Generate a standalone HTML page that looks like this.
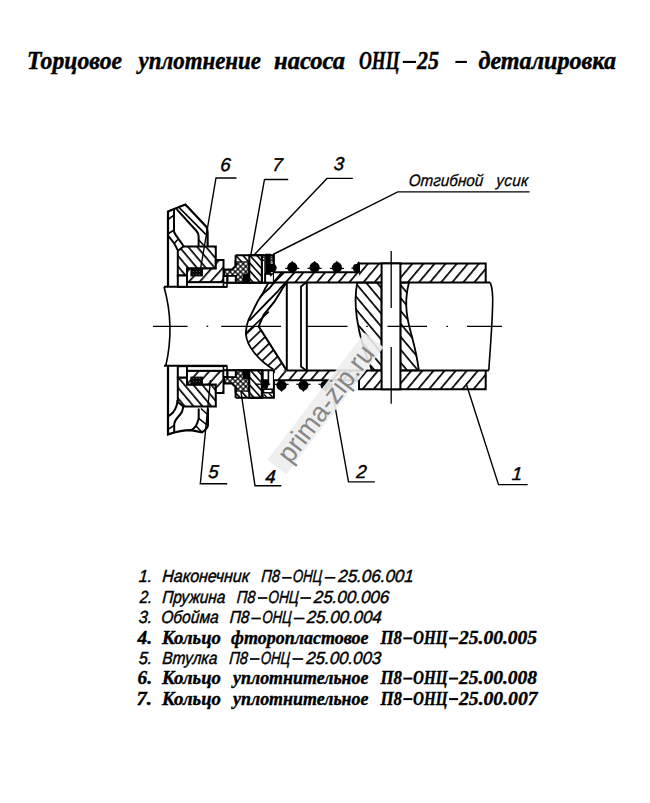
<!DOCTYPE html>
<html><head><meta charset="utf-8"><style>
html,body{margin:0;padding:0;background:#fff;}
svg{display:block;}
</style></head><body>
<svg width="650" height="803" viewBox="0 0 650 803">
<defs><pattern id="hf" patternUnits="userSpaceOnUse" width="8.5" height="10" patternTransform="rotate(40) translate(0.0,0)"><rect width="8.5" height="10" fill="#fff"/><rect x="0" y="0" width="1.7" height="10" fill="#000"/></pattern><pattern id="hb" patternUnits="userSpaceOnUse" width="8.3" height="10" patternTransform="rotate(140) translate(0.0,0)"><rect width="8.3" height="10" fill="#fff"/><rect x="0" y="0" width="1.7" height="10" fill="#000"/></pattern><pattern id="hfs" patternUnits="userSpaceOnUse" width="8.3" height="10" patternTransform="rotate(40) translate(0.0,0)"><rect width="8.3" height="10" fill="#fff"/><rect x="0" y="0" width="1.7" height="10" fill="#000"/></pattern><pattern id="hbw" patternUnits="userSpaceOnUse" width="6.8" height="10" patternTransform="rotate(140) translate(0.0,0)"><rect width="6.8" height="10" fill="#fff"/><rect x="0" y="0" width="1.7" height="10" fill="#000"/></pattern><pattern id="hfw" patternUnits="userSpaceOnUse" width="8.0" height="10" patternTransform="rotate(42) translate(0.0,0)"><rect width="8.0" height="10" fill="#fff"/><rect x="0" y="0" width="1.7" height="10" fill="#000"/></pattern><pattern id="hp" patternUnits="userSpaceOnUse" width="8.3" height="10" patternTransform="rotate(140) translate(0.0,0)"><rect width="8.3" height="10" fill="#fff"/><rect x="0" y="0" width="1.7" height="10" fill="#000"/></pattern><pattern id="hc" patternUnits="userSpaceOnUse" width="7.6" height="10" patternTransform="rotate(46) translate(0.0,0)"><rect width="7.6" height="10" fill="#fff"/><rect x="0" y="0" width="1.7" height="10" fill="#000"/></pattern><pattern id="hbm" patternUnits="userSpaceOnUse" width="8.3" height="10" patternTransform="rotate(40) translate(0.0,0)"><rect width="8.3" height="10" fill="#fff"/><rect x="0" y="0" width="1.7" height="10" fill="#000"/></pattern><pattern id="hbwm" patternUnits="userSpaceOnUse" width="6.8" height="10" patternTransform="rotate(40) translate(0.0,0)"><rect width="6.8" height="10" fill="#fff"/><rect x="0" y="0" width="1.7" height="10" fill="#000"/></pattern><pattern id="hfwm" patternUnits="userSpaceOnUse" width="8.0" height="10" patternTransform="rotate(138) translate(0.0,0)"><rect width="8.0" height="10" fill="#fff"/><rect x="0" y="0" width="1.7" height="10" fill="#000"/></pattern><pattern id="hcg" patternUnits="userSpaceOnUse" width="5.2" height="10" patternTransform="rotate(138) translate(0.0,0)"><rect width="5.2" height="10" fill="#fff"/><rect x="0" y="0" width="1.6" height="10" fill="#000"/></pattern><pattern id="hcgm" patternUnits="userSpaceOnUse" width="5.2" height="10" patternTransform="rotate(42) translate(0.0,0)"><rect width="5.2" height="10" fill="#fff"/><rect x="0" y="0" width="1.6" height="10" fill="#000"/></pattern><pattern id="xh" patternUnits="userSpaceOnUse" width="3.75" height="3.75" patternTransform="translate(237.9,263.8) rotate(45)"><rect width="3.75" height="3.75" fill="#000"/><rect x="0.65" y="0.65" width="2.45" height="2.45" fill="#fff"/></pattern><pattern id="dots" patternUnits="userSpaceOnUse" width="2.6" height="2.6"><rect width="2.6" height="2.6" fill="#000"/><rect x="0.7" y="0.7" width="1.3" height="1.3" fill="#fff"/></pattern><pattern id="dk" patternUnits="userSpaceOnUse" width="3" height="3"><rect width="3" height="3" fill="#0a0a0a"/><rect x="1" y="1" width="1" height="1" fill="#505050"/></pattern></defs>
<rect width="650" height="803" fill="#fff"/>
<text transform="translate(27.0,69.2)" x="0" y="0" font-family="Liberation Serif" font-weight="bold" font-style="italic" font-size="26" textLength="95.0" lengthAdjust="spacingAndGlyphs" stroke="#000" stroke-width="0.45">Торцовое</text>
<text transform="translate(138.5,69.2)" x="0" y="0" font-family="Liberation Serif" font-weight="bold" font-style="italic" font-size="26" textLength="122.5" lengthAdjust="spacingAndGlyphs" stroke="#000" stroke-width="0.45">уплотнение</text>
<text transform="translate(274.0,69.2)" x="0" y="0" font-family="Liberation Serif" font-weight="bold" font-style="italic" font-size="26" textLength="71.0" lengthAdjust="spacingAndGlyphs" stroke="#000" stroke-width="0.45">насоса</text>
<text transform="translate(359.0,69.2)" x="0" y="0" font-family="Liberation Serif" font-weight="bold" font-style="italic" font-size="26" textLength="40.5" lengthAdjust="spacingAndGlyphs" stroke="#000" stroke-width="0.45">ОНЦ</text>
<text transform="translate(417.0,69.2)" x="0" y="0" font-family="Liberation Serif" font-weight="bold" font-style="italic" font-size="26" textLength="22.0" lengthAdjust="spacingAndGlyphs" stroke="#000" stroke-width="0.45">25</text>
<text transform="translate(478.5,69.2)" x="0" y="0" font-family="Liberation Serif" font-weight="bold" font-style="italic" font-size="26" textLength="137.5" lengthAdjust="spacingAndGlyphs" stroke="#000" stroke-width="0.45">деталировка</text>
<text transform="translate(138.5,582.3) skewX(-4)" x="0" y="0" font-family="Liberation Sans" font-weight="normal" font-style="italic" font-size="17.5" textLength="13.5" lengthAdjust="spacingAndGlyphs" stroke="#000" stroke-width="0.45">1.</text>
<text transform="translate(162.0,582.3) skewX(-4)" x="0" y="0" font-family="Liberation Sans" font-weight="normal" font-style="italic" font-size="17.5" textLength="87.0" lengthAdjust="spacingAndGlyphs" stroke="#000" stroke-width="0.45">Наконечник</text>
<text transform="translate(261.0,582.3) skewX(-4)" x="0" y="0" font-family="Liberation Sans" font-weight="normal" font-style="italic" font-size="17.5" textLength="18.5" lengthAdjust="spacingAndGlyphs" stroke="#000" stroke-width="0.45">П8</text>
<text transform="translate(292.5,582.3) skewX(-4)" x="0" y="0" font-family="Liberation Sans" font-weight="normal" font-style="italic" font-size="17.5" textLength="29.5" lengthAdjust="spacingAndGlyphs" stroke="#000" stroke-width="0.45">ОНЦ</text>
<text transform="translate(338.0,582.3) skewX(-4)" x="0" y="0" font-family="Liberation Sans" font-weight="normal" font-style="italic" font-size="17.5" textLength="75.5" lengthAdjust="spacingAndGlyphs" stroke="#000" stroke-width="0.45">25.06.001</text>
<text transform="translate(139.5,602.5) skewX(-4)" x="0" y="0" font-family="Liberation Sans" font-weight="normal" font-style="italic" font-size="17.5" textLength="12.5" lengthAdjust="spacingAndGlyphs" stroke="#000" stroke-width="0.45">2.</text>
<text transform="translate(162.0,602.5) skewX(-4)" x="0" y="0" font-family="Liberation Sans" font-weight="normal" font-style="italic" font-size="17.5" textLength="63.0" lengthAdjust="spacingAndGlyphs" stroke="#000" stroke-width="0.45">Пружина</text>
<text transform="translate(236.5,602.5) skewX(-4)" x="0" y="0" font-family="Liberation Sans" font-weight="normal" font-style="italic" font-size="17.5" textLength="18.5" lengthAdjust="spacingAndGlyphs" stroke="#000" stroke-width="0.45">П8</text>
<text transform="translate(268.0,602.5) skewX(-4)" x="0" y="0" font-family="Liberation Sans" font-weight="normal" font-style="italic" font-size="17.5" textLength="30.5" lengthAdjust="spacingAndGlyphs" stroke="#000" stroke-width="0.45">ОНЦ</text>
<text transform="translate(313.5,602.5) skewX(-4)" x="0" y="0" font-family="Liberation Sans" font-weight="normal" font-style="italic" font-size="17.5" textLength="75.5" lengthAdjust="spacingAndGlyphs" stroke="#000" stroke-width="0.45">25.00.006</text>
<text transform="translate(138.5,623.0) skewX(-4)" x="0" y="0" font-family="Liberation Sans" font-weight="normal" font-style="italic" font-size="17.5" textLength="13.5" lengthAdjust="spacingAndGlyphs" stroke="#000" stroke-width="0.45">3.</text>
<text transform="translate(161.0,623.0) skewX(-4)" x="0" y="0" font-family="Liberation Sans" font-weight="normal" font-style="italic" font-size="17.5" textLength="57.5" lengthAdjust="spacingAndGlyphs" stroke="#000" stroke-width="0.45">Обойма</text>
<text transform="translate(229.5,623.0) skewX(-4)" x="0" y="0" font-family="Liberation Sans" font-weight="normal" font-style="italic" font-size="17.5" textLength="19.5" lengthAdjust="spacingAndGlyphs" stroke="#000" stroke-width="0.45">П8</text>
<text transform="translate(262.0,623.0) skewX(-4)" x="0" y="0" font-family="Liberation Sans" font-weight="normal" font-style="italic" font-size="17.5" textLength="29.5" lengthAdjust="spacingAndGlyphs" stroke="#000" stroke-width="0.45">ОНЦ</text>
<text transform="translate(306.5,623.0) skewX(-4)" x="0" y="0" font-family="Liberation Sans" font-weight="normal" font-style="italic" font-size="17.5" textLength="75.0" lengthAdjust="spacingAndGlyphs" stroke="#000" stroke-width="0.45">25.00.004</text>
<text transform="translate(138.5,663.5) skewX(-4)" x="0" y="0" font-family="Liberation Sans" font-weight="normal" font-style="italic" font-size="17.5" textLength="13.5" lengthAdjust="spacingAndGlyphs" stroke="#000" stroke-width="0.45">5.</text>
<text transform="translate(162.0,663.5) skewX(-4)" x="0" y="0" font-family="Liberation Sans" font-weight="normal" font-style="italic" font-size="17.5" textLength="55.0" lengthAdjust="spacingAndGlyphs" stroke="#000" stroke-width="0.45">Втулка</text>
<text transform="translate(229.0,663.5) skewX(-4)" x="0" y="0" font-family="Liberation Sans" font-weight="normal" font-style="italic" font-size="17.5" textLength="18.5" lengthAdjust="spacingAndGlyphs" stroke="#000" stroke-width="0.45">П8</text>
<text transform="translate(260.5,663.5) skewX(-4)" x="0" y="0" font-family="Liberation Sans" font-weight="normal" font-style="italic" font-size="17.5" textLength="29.5" lengthAdjust="spacingAndGlyphs" stroke="#000" stroke-width="0.45">ОНЦ</text>
<text transform="translate(306.0,663.5) skewX(-4)" x="0" y="0" font-family="Liberation Sans" font-weight="normal" font-style="italic" font-size="17.5" textLength="75.0" lengthAdjust="spacingAndGlyphs" stroke="#000" stroke-width="0.45">25.00.003</text>
<text transform="translate(137.5,643.8)" x="0" y="0" font-family="Liberation Serif" font-weight="bold" font-style="italic" font-size="19" textLength="14.5" lengthAdjust="spacingAndGlyphs" stroke="#000" stroke-width="0.4">4.</text>
<text transform="translate(162.0,643.8)" x="0" y="0" font-family="Liberation Serif" font-weight="bold" font-style="italic" font-size="19" textLength="59.0" lengthAdjust="spacingAndGlyphs" stroke="#000" stroke-width="0.4">Кольцо</text>
<text transform="translate(231.0,643.8)" x="0" y="0" font-family="Liberation Serif" font-weight="bold" font-style="italic" font-size="19" textLength="137.5" lengthAdjust="spacingAndGlyphs" stroke="#000" stroke-width="0.4">фторопластовое</text>
<text transform="translate(380.5,643.8)" x="0" y="0" font-family="Liberation Serif" font-weight="bold" font-style="italic" font-size="19" textLength="21.5" lengthAdjust="spacingAndGlyphs" stroke="#000" stroke-width="0.4">П8</text>
<text transform="translate(413.0,643.8)" x="0" y="0" font-family="Liberation Serif" font-weight="bold" font-style="italic" font-size="19" textLength="34.5" lengthAdjust="spacingAndGlyphs" stroke="#000" stroke-width="0.4">ОНЦ</text>
<text transform="translate(459.0,643.8)" x="0" y="0" font-family="Liberation Serif" font-weight="bold" font-style="italic" font-size="19" textLength="78.0" lengthAdjust="spacingAndGlyphs" stroke="#000" stroke-width="0.4">25.00.005</text>
<text transform="translate(137.5,684.0)" x="0" y="0" font-family="Liberation Serif" font-weight="bold" font-style="italic" font-size="19" textLength="14.5" lengthAdjust="spacingAndGlyphs" stroke="#000" stroke-width="0.4">6.</text>
<text transform="translate(162.0,684.0)" x="0" y="0" font-family="Liberation Serif" font-weight="bold" font-style="italic" font-size="19" textLength="59.0" lengthAdjust="spacingAndGlyphs" stroke="#000" stroke-width="0.4">Кольцо</text>
<text transform="translate(233.0,684.0)" x="0" y="0" font-family="Liberation Serif" font-weight="bold" font-style="italic" font-size="19" textLength="135.5" lengthAdjust="spacingAndGlyphs" stroke="#000" stroke-width="0.4">уплотнительное</text>
<text transform="translate(380.5,684.0)" x="0" y="0" font-family="Liberation Serif" font-weight="bold" font-style="italic" font-size="19" textLength="21.5" lengthAdjust="spacingAndGlyphs" stroke="#000" stroke-width="0.4">П8</text>
<text transform="translate(413.0,684.0)" x="0" y="0" font-family="Liberation Serif" font-weight="bold" font-style="italic" font-size="19" textLength="34.5" lengthAdjust="spacingAndGlyphs" stroke="#000" stroke-width="0.4">ОНЦ</text>
<text transform="translate(459.0,684.0)" x="0" y="0" font-family="Liberation Serif" font-weight="bold" font-style="italic" font-size="19" textLength="78.0" lengthAdjust="spacingAndGlyphs" stroke="#000" stroke-width="0.4">25.00.008</text>
<text transform="translate(136.5,704.5)" x="0" y="0" font-family="Liberation Serif" font-weight="bold" font-style="italic" font-size="19" textLength="15.5" lengthAdjust="spacingAndGlyphs" stroke="#000" stroke-width="0.4">7.</text>
<text transform="translate(162.0,704.5)" x="0" y="0" font-family="Liberation Serif" font-weight="bold" font-style="italic" font-size="19" textLength="59.0" lengthAdjust="spacingAndGlyphs" stroke="#000" stroke-width="0.4">Кольцо</text>
<text transform="translate(233.0,704.5)" x="0" y="0" font-family="Liberation Serif" font-weight="bold" font-style="italic" font-size="19" textLength="135.5" lengthAdjust="spacingAndGlyphs" stroke="#000" stroke-width="0.4">уплотнительное</text>
<text transform="translate(380.5,704.5)" x="0" y="0" font-family="Liberation Serif" font-weight="bold" font-style="italic" font-size="19" textLength="21.5" lengthAdjust="spacingAndGlyphs" stroke="#000" stroke-width="0.4">П8</text>
<text transform="translate(413.0,704.5)" x="0" y="0" font-family="Liberation Serif" font-weight="bold" font-style="italic" font-size="19" textLength="34.5" lengthAdjust="spacingAndGlyphs" stroke="#000" stroke-width="0.4">ОНЦ</text>
<text transform="translate(459.0,704.5)" x="0" y="0" font-family="Liberation Serif" font-weight="bold" font-style="italic" font-size="19" textLength="78.5" lengthAdjust="spacingAndGlyphs" stroke="#000" stroke-width="0.4">25.00.007</text>
<text transform="translate(220.0,170.8) skewX(-4)" x="0" y="0" font-family="Liberation Sans" font-weight="normal" font-style="italic" font-size="18.5" stroke="#000" stroke-width="0.45">6</text>
<text transform="translate(272.0,171.2) skewX(-4)" x="0" y="0" font-family="Liberation Sans" font-weight="normal" font-style="italic" font-size="18.5" stroke="#000" stroke-width="0.45">7</text>
<text transform="translate(333.5,170.2) skewX(-4)" x="0" y="0" font-family="Liberation Sans" font-weight="normal" font-style="italic" font-size="18.5" stroke="#000" stroke-width="0.45">3</text>
<text transform="translate(208.0,478.4) skewX(-4)" x="0" y="0" font-family="Liberation Sans" font-weight="normal" font-style="italic" font-size="18.5" stroke="#000" stroke-width="0.45">5</text>
<text transform="translate(265.0,482.8) skewX(-4)" x="0" y="0" font-family="Liberation Sans" font-weight="normal" font-style="italic" font-size="18.5" stroke="#000" stroke-width="0.45">4</text>
<text transform="translate(356.0,477.8) skewX(-4)" x="0" y="0" font-family="Liberation Sans" font-weight="normal" font-style="italic" font-size="18.5" stroke="#000" stroke-width="0.45">2</text>
<text transform="translate(511.5,480) skewX(-4)" x="0" y="0" font-family="Liberation Sans" font-weight="normal" font-style="italic" font-size="18.5" stroke="#000" stroke-width="0.45">1</text>
<text transform="translate(408.5,185.5) skewX(-4) scale(0.92,1)" x="0" y="0" font-family="Liberation Sans" font-weight="normal" font-style="italic" font-size="16.5" textLength="80.98" lengthAdjust="spacing" stroke="#000" stroke-width="0.3">Отгибной</text>
<text transform="translate(496.0,185.5) skewX(-4) scale(0.92,1)" x="0" y="0" font-family="Liberation Sans" font-weight="normal" font-style="italic" font-size="16.5" textLength="34.78" lengthAdjust="spacing" stroke="#000" stroke-width="0.3">усик</text>
<rect x="402.8" y="60.9" width="13.2" height="2.1" fill="#000"/><rect x="455.4" y="60.9" width="11.5" height="2.1" fill="#000"/>
<rect x="282.2" y="576.95" width="9.5" height="1.7" fill="#000"/>
<rect x="324.7" y="576.95" width="10.7" height="1.7" fill="#000"/>
<rect x="257.9" y="597.15" width="9.5" height="1.7" fill="#000"/>
<rect x="300.4" y="597.15" width="10.7" height="1.7" fill="#000"/>
<rect x="251.3" y="617.65" width="9.5" height="1.7" fill="#000"/>
<rect x="293.8" y="617.65" width="10.7" height="1.7" fill="#000"/>
<rect x="250.0" y="658.15" width="9.5" height="1.7" fill="#000"/>
<rect x="292.5" y="658.15" width="10.7" height="1.7" fill="#000"/>
<rect x="403.4" y="637.4" width="9.0" height="2.0" fill="#000"/>
<rect x="449.1" y="637.4" width="9.0" height="2.0" fill="#000"/>
<rect x="403.4" y="677.6" width="9.0" height="2.0" fill="#000"/>
<rect x="449.1" y="677.6" width="9.0" height="2.0" fill="#000"/>
<rect x="403.4" y="698.1" width="9.0" height="2.0" fill="#000"/>
<rect x="449.1" y="698.1" width="9.0" height="2.0" fill="#000"/>
<g stroke="#000" stroke-linecap="butt" fill="none">
<line x1="164" y1="286.8" x2="227" y2="286.8" stroke-width="2"/>
<line x1="164" y1="365.8" x2="227" y2="365.8" stroke-width="2"/>
<path d="M164,286.8 Q175,326 165.8,365.8" fill="none" stroke-width="1.6" />
<path d="M168,287 L168,211.5 L185.3,204.6 L188,207.3 L206.5,227 Q207.6,229 207.6,233 L207.6,247" fill="none" stroke-width="2.2" />
<path d="M174,209.6 L174,231.7 C175.5,236 180,240 183.8,246.5" fill="none" stroke-width="2" />
<path d="M168,235.8 C171,239 175,243 177.5,250" fill="none" stroke-width="2" />
<path d="M168.5,233.5 L173.8,230.3" fill="none" stroke-width="1.6" />
<path d="M174.5,243.2 L177.8,239.5" fill="none" stroke-width="1.6" />
<path d="M168,219.5 L174,215.2" fill="none" stroke-width="1.6" />
<path d="M176.6,209.2 L196.5,231 Q198.6,233.5 198.6,236 L198.6,246.5" fill="none" stroke-width="2" />
<path d="M179.5,208 L205.5,234.2" fill="none" stroke-width="1.7" />
<path d="M198.6,239.7 L203.7,245.2" fill="none" stroke-width="1.6" />
<path d="M207.6,235 L205.5,234.2" fill="none" stroke-width="1.4" />
<path d="M168,366 L168,434.4 C176,431.8 184,430.2 191,430.2 L202,432.4 Q207.9,428 207.9,424.9 L207.9,408.5" fill="none" stroke-width="2.2" />
<path d="M177.5,400 C177.5,405 176,408.5 173,412.5 C171,414.5 169,415.5 168,416.4" fill="none" stroke-width="2" />
<path d="M183,405.7 C183.5,409 182,413 178,417 C175.5,419.8 174.2,422 174.2,425 L174.2,432" fill="none" stroke-width="2" />
<path d="M168,429.4 L174.2,425.4" fill="none" stroke-width="1.6" />
<path d="M198.7,408.5 L198.7,418.4 C198,421 197,424 196,425.9 C194.5,428 193,429.3 191,430.2" fill="none" stroke-width="2" />
<path d="M201,408.5 L207.9,415" fill="none" stroke-width="1.5" />
<path d="M198.7,418.4 L207,425" fill="none" stroke-width="1.5" />
<path d="M196,425.9 L202,432.2" fill="none" stroke-width="1.5" />
<polygon points="177.8,251 183.4,246.5 215.8,246.5 215.8,268.5 187,268.5 187,275.5 177.8,275.5" fill="url(#hbw)" stroke-width="2"/>
<polygon points="187,268.5 215.8,268.5 215.8,260 223.5,260 223.5,282.3 187,282.3" fill="url(#hfw)" stroke-width="2"/>
<rect x="191" y="268.5" width="11.3" height="7.3" fill="url(#dk)" stroke-width="1.2"/>
<rect x="177.8" y="275.5" width="9.2" height="11.3" fill="#fff" stroke-width="2"/>
<rect x="187" y="282.3" width="38" height="4.5" fill="#fff" stroke-width="1.8"/>
<rect x="223.5" y="276" width="3.5" height="10.8" fill="#fff" stroke-width="1.6"/>
<polygon points="224,269.5 231.9,269.5 235.6,265.9 235.6,261.3 249.3,261.3 249.3,282.7 235.6,282.7 235.6,276 224,276" fill="url(#xh)" stroke-width="2"/>
<rect x="227.7" y="276" width="7.9" height="6.7" fill="#fff" stroke-width="1.6"/>
<rect x="235.6" y="255.2" width="13.7" height="6.1" fill="url(#hcg)" stroke-width="0"/>
<line x1="235.6" y1="255.2" x2="235.6" y2="266" stroke-width="2"/>
<path d="M242.6,282.7 L242.6,277 Q243.5,273.5 247,273.5 L250.5,273.5 L250.5,282.7 Z" fill="#000" stroke-width="0" />
<rect x="249.3" y="255.2" width="12.5" height="27.5" fill="url(#hcg)" stroke-width="2"/>
<rect x="262.3" y="255.2" width="2.7" height="27.5" fill="#fff" stroke-width="1.4"/>
<rect x="262.9" y="256.5" width="1.4" height="1.4" fill="#000" stroke="none"/><rect x="262.9" y="259.5" width="1.4" height="1.4" fill="#000" stroke="none"/>
<rect x="265.3" y="253.7" width="5.5" height="20.3" fill="#000" stroke-width="0"/>
<rect x="270.8" y="255.2" width="3.1" height="7.3" fill="url(#dots)" stroke-width="0"/>
<circle cx="272.3" cy="267.8" r="4.4" fill="#000" stroke="none"/>
<rect x="265.3" y="274.0" width="8.6" height="8.7" fill="#fff" stroke-width="1.6"/>
<path d="M269.4,273.5 L272.2,273.5 Q271.8,276.5 270.8,276.5 Q269.8,276.5 269.4,273.5 Z" fill="#000" stroke-width="0" />
<path d="M235.6,255.2 L273.9,255.2 L273.9,282.7 L224,282.7" fill="none" stroke-width="2" />
<g transform="translate(0,653.0) scale(1,-1)">
<polygon points="177.8,251 183.4,246.5 215.8,246.5 215.8,268.5 187,268.5 187,275.5 177.8,275.5" fill="url(#hbwm)" stroke-width="2"/>
<polygon points="187,268.5 215.8,268.5 215.8,260 223.5,260 223.5,282.3 187,282.3" fill="url(#hfwm)" stroke-width="2"/>
<rect x="191" y="268.5" width="11.3" height="7.3" fill="url(#dk)" stroke-width="1.2"/>
<rect x="177.8" y="275.5" width="9.2" height="11.3" fill="#fff" stroke-width="2"/>
<rect x="187" y="282.3" width="38" height="4.5" fill="#fff" stroke-width="1.8"/>
<rect x="223.5" y="276" width="3.5" height="10.8" fill="#fff" stroke-width="1.6"/>
<polygon points="224,269.5 231.9,269.5 235.6,265.9 235.6,261.3 249.3,261.3 249.3,282.7 235.6,282.7 235.6,276 224,276" fill="url(#xh)" stroke-width="2"/>
<rect x="227.7" y="276" width="7.9" height="6.7" fill="#fff" stroke-width="1.6"/>
<rect x="235.6" y="255.2" width="13.7" height="6.1" fill="url(#hcgm)" stroke-width="0"/>
<line x1="235.6" y1="255.2" x2="235.6" y2="266" stroke-width="2"/>
<path d="M242.6,282.7 L242.6,277 Q243.5,273.5 247,273.5 L250.5,273.5 L250.5,282.7 Z" fill="#000" stroke-width="0" />
<rect x="249.3" y="255.2" width="12.5" height="27.5" fill="url(#hcgm)" stroke-width="2"/>
<path d="M235.6,255.2 L273.9,255.2 L273.9,282.7 L224,282.7" fill="none" stroke-width="2" />
</g>
<line x1="262.8" y1="369.6" x2="262.8" y2="397.2" stroke-width="1.8"/>
<path d="M268.4,369.6 L268.4,385.4" fill="none" stroke-width="1.6" />
<path d="M262.8,379.2 L268.4,379.2 L268.4,384 Q268.4,389.2 265.6,389.2 Q262.8,389.2 262.8,384 Z" fill="#000" stroke-width="0" />
<line x1="255.5" y1="384.2" x2="270.2" y2="384.2" stroke-width="1.3"/>
<rect x="263.5" y="389.2" width="8.7" height="3.6" fill="#fff" stroke-width="1.5"/>
<path d="M264,394.5 L266.5,397 M269,393.5 L272.5,397" fill="none" stroke-width="1.4" />
<polygon points="274,272.3 284.2,272.3 274.2,282.6 274,282.6" fill="url(#hfs)" stroke-width="0"/>
<polygon points="294.6,272.3 359,272.3 359,282.6 285.8,282.6" fill="url(#hfs)" stroke-width="0"/>
<polygon points="287,370.4 359,370.4 359,380.2 274,380.2 274,373" fill="url(#hfs)" stroke-width="0"/>
<polygon points="359,263.4 485.7,263.4 485.7,282.6 359,282.6" fill="url(#hf)" stroke-width="0"/>
<polygon points="359,370.4 485.7,370.4 485.7,389.3 359,389.3" fill="url(#hf)" stroke-width="0"/>
<path d="M357.3,282.6 C353.5,300 355,330 372,370.4 L381.6,370.4 L381.6,282.6 Z" fill="url(#hp)" stroke-width="1.8" />
<path d="M409,282.6 C405,298 405,312 411,333 C414,345 417,355 418.8,370.4 L400.4,370.4 L400.4,282.6 Z" fill="url(#hp)" stroke-width="1.8" />
<line x1="274" y1="272.2" x2="359" y2="272.2" stroke-width="2"/>
<path d="M359,272.2 L359,263.4 L485.7,263.4 L485.7,282.6" fill="none" stroke-width="2" />
<line x1="274" y1="282.6" x2="490.3" y2="282.6" stroke-width="2"/>
<line x1="287" y1="370.4" x2="488.8" y2="370.4" stroke-width="2"/>
<line x1="274" y1="380.3" x2="359" y2="380.3" stroke-width="2"/>
<path d="M359,380.3 L359,389.3 L485.7,389.3 L485.7,370.4" fill="none" stroke-width="2" />
<rect x="381.6" y="263.4" width="18.8" height="125.9" fill="#fff" stroke-width="2"/>
<line x1="391.2" y1="251" x2="391.2" y2="308" stroke-width="1.3"/>
<line x1="391.2" y1="347" x2="391.2" y2="403.8" stroke-width="1.3"/>
<path d="M490.3,282.6 C492.5,288 493,296 492.6,306 C492,330 490,350 488.8,370.4" fill="none" stroke-width="1.6" />
<path d="M258.6,326.3 L286.6,370.4 L274,370.4 C262,362 247,348 245.8,333 C245.7,330 245.8,328 246,326.3 Z" fill="url(#hc)" stroke-width="0" />
<path d="M268.8,282.6 L265.4,288 L263.5,292 L257.3,302 L248.5,319.8 C246.5,325 245.5,330 246,335 C247,346 258,360 273.5,369.5" fill="none" stroke-width="1.8" />
<path d="M284.2,272.3 L274.2,282.4 L269.6,288 L265,292 L259.5,298" fill="none" stroke-width="1.8" />
<path d="M294.6,272.3 L285.8,282.4 L280.4,288 L277.3,292 L267.3,302 L249.3,320.7" fill="none" stroke-width="1.8" />
<path d="M286.6,282.6 L282.7,288 L280.4,292 L274.2,302 L263.7,314.8 L258.6,326.3 L286.6,370.4" fill="none" stroke-width="2" />
<path d="M268.8,311.7 L246,333.2" fill="none" stroke-width="1.6" />
<line x1="286.8" y1="282.6" x2="286.8" y2="370.4" stroke-width="2"/>
<path d="M306,282.6 L301,286.5 L301,366.5 L306,370.4" fill="none" stroke-width="1.8" />
<line x1="306.8" y1="282.6" x2="306.8" y2="370.4" stroke-width="2"/>
<circle cx="292.3" cy="267.4" r="5.1" fill="#000" stroke="none"/>
<path d="M290.3,263.4 L292.3,260.7 L294.3,263.4 Z" fill="#000" stroke="none"/>
<line x1="285.2" y1="268.4" x2="299.40000000000003" y2="268.4" stroke-width="1.2"/>
<circle cx="314.6" cy="267.4" r="5.1" fill="#000" stroke="none"/>
<path d="M312.6,263.4 L314.6,260.7 L316.6,263.4 Z" fill="#000" stroke="none"/>
<line x1="307.5" y1="268.4" x2="321.70000000000005" y2="268.4" stroke-width="1.2"/>
<circle cx="336.9" cy="267.4" r="5.1" fill="#000" stroke="none"/>
<path d="M334.9,263.4 L336.9,260.7 L338.9,263.4 Z" fill="#000" stroke="none"/>
<line x1="329.79999999999995" y1="268.4" x2="344.0" y2="268.4" stroke-width="1.2"/>
<path d="M359.5,262 L359.5,273 L356,272.6 A5.1,5.1 0 0 1 354,264.5 L357,263.8 L358.3,261.4 Z" fill="#000" stroke="none"/>
<line x1="351.5" y1="268.3" x2="359.5" y2="268.3" stroke-width="1.2"/>
<circle cx="281.5" cy="385.3" r="5.1" fill="#000" stroke="none"/>
<path d="M279.5,389.3 L281.5,392.0 L283.5,389.3 Z" fill="#000" stroke="none"/>
<line x1="274.4" y1="384.3" x2="288.6" y2="384.3" stroke-width="1.2"/>
<circle cx="303.4" cy="385.3" r="5.1" fill="#000" stroke="none"/>
<path d="M301.4,389.3 L303.4,392.0 L305.4,389.3 Z" fill="#000" stroke="none"/>
<line x1="296.29999999999995" y1="384.3" x2="310.5" y2="384.3" stroke-width="1.2"/>
<circle cx="325.6" cy="385.3" r="5.1" fill="#000" stroke="none"/>
<path d="M323.6,389.3 L325.6,392.0 L327.6,389.3 Z" fill="#000" stroke="none"/>
<line x1="318.5" y1="384.3" x2="332.70000000000005" y2="384.3" stroke-width="1.2"/>
<line x1="153" y1="326.3" x2="187.6" y2="326.3" stroke-width="1.3"/>
<line x1="221.2" y1="326.3" x2="281" y2="326.3" stroke-width="1.3"/>
<line x1="306" y1="326.3" x2="347.5" y2="326.3" stroke-width="1.3"/>
<line x1="387.5" y1="326.3" x2="427" y2="326.3" stroke-width="1.3"/>
<line x1="467" y1="326.3" x2="502" y2="326.3" stroke-width="1.3"/>
<line x1="206.6" y1="326.3" x2="208.20000000000002" y2="326.3" stroke-width="1.3"/>
<line x1="366.2" y1="326.3" x2="367.8" y2="326.3" stroke-width="1.3"/>
<line x1="446.4" y1="326.3" x2="448.0" y2="326.3" stroke-width="1.3"/>
<path d="M236.5,178 L216,178 L200.6,268.5" fill="none" stroke-width="1.4" />
<path d="M288.2,179.5 L264.5,179.5 L250.8,255.2" fill="none" stroke-width="1.4" />
<path d="M352.8,178.4 L327,178.4 L253.8,255.2" fill="none" stroke-width="1.4" />
<path d="M529.6,191.9 L397.7,191.9 L273,254.5" fill="none" stroke-width="1.4" />
<path d="M227.2,483.7 L200.3,483.7 L210.5,380" fill="none" stroke-width="1.4" />
<path d="M281.3,485.7 L255,485.7 L241,392" fill="none" stroke-width="1.4" />
<path d="M374.8,481.9 L348.5,481.9 L331,384" fill="none" stroke-width="1.4" />
<path d="M527.7,484.6 L498.5,484.6 L466.2,383.8" fill="none" stroke-width="1.4" />
</g>
<g transform="translate(325.5,403.5) rotate(-52.5)">
<rect x="-80" y="-12" width="160" height="24" fill="#ededed" fill-opacity="0.9"/>
<text x="0" y="9.5" text-anchor="middle" font-family="Liberation Sans" font-size="27.5" fill="#868686" textLength="140" lengthAdjust="spacingAndGlyphs">prima-zip.ru</text>
</g>

</svg></body></html>
